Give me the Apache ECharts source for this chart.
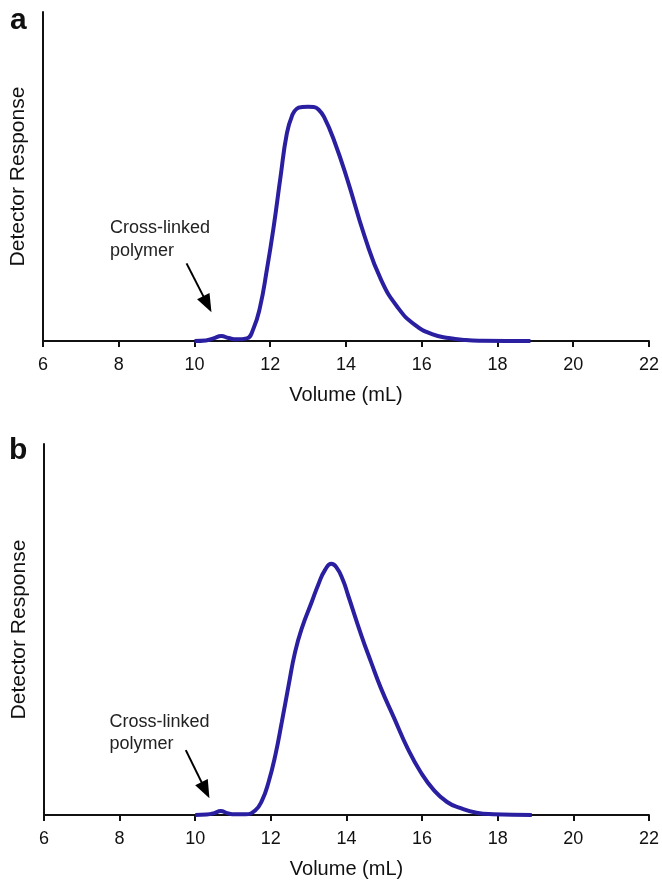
<!DOCTYPE html>
<html>
<head>
<meta charset="utf-8">
<script src="https://cdn.jsdelivr.net/npm/echarts@6/dist/echarts.min.js"></script>
<style>
html,body{margin:0;padding:0;background:#fff;}
#chart{width:662px;height:881px;}
</style>
</head>
<body>
<div id="chart"></div>
<script>
// Panel a
const volA  = [10.0, 10.3, 10.5, 10.71, 10.9, 11.11, 11.38, 11.56, 11.73, 11.91, 12.09, 12.27, 12.44, 12.58, 12.7, 12.85, 13.0, 13.15, 13.28, 13.42, 13.69, 14.04, 14.49, 14.93, 15.38, 15.82, 16.27, 16.71, 17.16, 17.6, 18.87];
const respA = [0, 0.15, 0.8, 1.5, 0.9, 0.5, 0.8, 3.9, 10.3, 21.6, 34.7, 49.8, 63.2, 68.6, 70.6, 71.1, 71.2, 71.1, 70.3, 68.1, 60.8, 48.9, 31.9, 18.5, 10.0, 4.9, 2.1, 0.9, 0.3, 0.1, 0];
// Panel b
const volB  = [10.0, 10.3, 10.5, 10.67, 10.85, 10.98, 11.33, 11.59, 11.77, 11.94, 12.12, 12.29, 12.47, 12.64, 12.82, 13.08, 13.25, 13.43, 13.6, 13.73, 13.9, 14.04, 14.39, 14.65, 14.91, 15.26, 15.61, 15.96, 16.31, 16.66, 17.0, 17.44, 17.88, 18.9];
const respB = [0, 0.13, 0.5, 1.1, 0.5, 0.2, 0.2, 1.3, 4.0, 8.9, 16.2, 25.1, 35.0, 43.9, 50.4, 57.4, 62.0, 66.0, 67.7, 66.8, 63.5, 59.3, 48.5, 41.2, 34.2, 26.1, 18.1, 11.6, 6.7, 3.5, 1.9, 0.6, 0.2, 0];

const panelLabels = ['a', 'b'];
const xTicks = {min: 6, max: 22, interval: 2};
const xName = 'Volume (mL)';
const yName = 'Detector Response';
const annText = 'Cross-linked\npolymer';
// annotation anchors in data space [volume, response]
const arrowA = [[9.79, 23.6], [10.34, 11.2]];
const arrowB = [[9.75, 17.5], [10.27, 6.7]];
const textA = [7.77, 34.6];
const textB = [7.73, 25.1];

const FONT = '"Liberation Sans", Arial, Helvetica, sans-serif';
const LINE = '#2a1fa0';

const chart = echarts.init(document.getElementById('chart'), null, {renderer: 'canvas'});

function xAxisDef(idx) {
  return {
    type: 'value', gridIndex: idx, min: xTicks.min, max: xTicks.max, interval: xTicks.interval,
    name: xName, nameLocation: 'middle', nameGap: 44,
    nameTextStyle: {fontFamily: FONT, fontSize: 20, color: '#111'},
    axisLine: {show: true, onZero: false, lineStyle: {color: '#111', width: 2}},
    axisTick: {show: true, inside: false, length: 6, lineStyle: {color: '#111', width: 2}},
    axisLabel: {fontFamily: FONT, fontSize: 18, color: '#111', margin: 15},
    splitLine: {show: false}
  };
}
function yAxisDef(idx) {
  return {
    type: 'value', gridIndex: idx, min: 0, max: 100,
    name: yName, nameLocation: 'middle', nameGap: 14, nameRotate: 90,
    nameTextStyle: {fontFamily: FONT, fontSize: 21, color: '#111'},
    axisLine: {show: true, lineStyle: {color: '#111', width: 2}},
    axisTick: {show: false}, axisLabel: {show: false}, splitLine: {show: false}
  };
}
function seriesDef(idx, xs, ys, arrow) {
  return {
    type: 'line', xAxisIndex: idx, yAxisIndex: idx,
    data: xs.map((v, i) => [v, ys[i]]),
    showSymbol: false, smooth: 0.5,
    lineStyle: {color: LINE, width: 4},
    z: 3,
    markLine: {
      silent: true, symbol: ['none', 'triangle'], symbolSize: [14, 18],
      label: {show: false},
      lineStyle: {color: '#000', width: 2, type: 'solid'},
      itemStyle: {color: '#000'},
      data: [[{coord: arrow[0]}, {coord: arrow[1]}]]
    }
  };
}

chart.setOption({
  animation: false,
  backgroundColor: '#fff',
  grid: [
    {left: 43, top: 12, width: 606, height: 329},
    {left: 44, top: 444, width: 609, height: 371}
  ],
  xAxis: [xAxisDef(0), xAxisDef(1)],
  yAxis: [yAxisDef(0), yAxisDef(1)],
  series: [seriesDef(0, volA, respA, arrowA), seriesDef(1, volB, respB, arrowB)]
});

const pA = chart.convertToPixel({gridIndex: 0}, textA);
const pB = chart.convertToPixel({gridIndex: 1}, textB);
chart.setOption({
  graphic: [
    {type: 'text', left: 10, top: 6, style: {text: panelLabels[0], font: 'bold 30px ' + FONT, fill: '#111'}},
    {type: 'text', left: 9, top: 436, style: {text: panelLabels[1], font: 'bold 30px ' + FONT, fill: '#111'}},
    {type: 'text', x: pA[0], y: pA[1] - 11, style: {text: annText, font: '18px ' + FONT, fill: '#222', lineHeight: 23, verticalAlign: 'top'}},
    {type: 'text', x: pB[0], y: pB[1] - 11, style: {text: annText, font: '18px ' + FONT, fill: '#222', lineHeight: 22, verticalAlign: 'top'}}
  ]
});
</script>
</body>
</html>
